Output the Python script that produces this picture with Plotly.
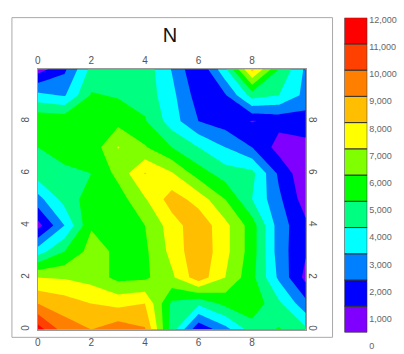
import plotly.graph_objects as go

# ---- data ----
x_vals = [0, 1, 2, 3, 4, 5, 6, 7, 8, 9, 10]
y_vals = [0, 1, 2, 3, 4, 5, 6, 7, 8, 9, 10]

row_y0 = [11500, 9500, 9000, 9600, 9100, 4500, 1200, 2600, 4500, 5100, 4200]
row_y1 = [9000, 8500, 8000, 7700, 8000, 4800, 4200, 5300, 5700, 4200, 2300]
row_y2 = [7000, 6900, 6600, 5700, 5800, 6800, 8600, 7000, 5300, 2800, 700]
row_y3 = [3500, 5000, 6400, 5800, 5800, 7300, 8800, 7300, 5500, 2500, 1100]
row_y4 = [600, 3000, 5900, 5700, 6000, 7500, 8700, 7300, 5500, 2500, 1200]
row_y5 = [2600, 4400, 5500, 5500, 6900, 8500, 7600, 6000, 4000, 2200, 500]
row_y6 = [4500, 4700, 5000, 6300, 8050, 7100, 5500, 4500, 4300, 1800, 200]
row_y7 = [5000, 5600, 5400, 7050, 6100, 5000, 4000, 3000, 2000, 600, 700]
row_y8 = [5900, 5800, 6000, 5700, 5100, 3500, 2000, 1500, 950, 1300, 1500]
row_y9 = [3300, 2900, 5100, 4900, 4600, 3300, 1500, 1900, 4450, 4000, 2700]
row_y10 = [500, 1800, 4300, 4600, 4600, 2950, 1000, 3800, 8300, 5000, 2800]

z_rows = [row_y0, row_y1, row_y2, row_y3, row_y4, row_y5,
          row_y6, row_y7, row_y8, row_y9, row_y10]

levels = [0, 1000, 2000, 3000, 4000, 5000, 6000, 7000, 8000, 9000, 10000, 11000, 12000]
band_colors = ["#7f00ff", "#0000ff", "#0080ff", "#00ffff", "#00ff80", "#00ff00",
               "#80ff00", "#ffff00", "#ffbf00", "#ff8000", "#ff4000", "#ff0000"]
level_labels = [f"{v:,}" for v in levels]
axis_ticks = [0, 2, 4, 6, 8]
title_text = "N"

# ---- colorscale so that each band gets its exact colour ----
n = len(levels)  # 13
colorscale = [[0.0, band_colors[0]]]
for k, c in enumerate(band_colors):
    colorscale.append([(k + 1) / n, c])
colorscale.append([1.0, band_colors[-1]])

W, H = 404, 354
def px_x(v): return v / W
def px_y(v): return 1 - v / H

fig = go.Figure()

fig.add_trace(go.Contour(
    x=x_vals, y=y_vals, z=z_rows,
    colorscale=colorscale,
    contours=dict(start=levels[0], end=levels[-1], size=levels[1] - levels[0],
                  coloring="fill", showlines=False),
    line=dict(width=0, smoothing=0),
    showscale=False,
    hoverinfo="skip",
    xaxis="x", yaxis="y",
))

# overlay axes for top / right tick labels
fig.add_trace(go.Scatter(x=[], y=[], xaxis="x3", yaxis="y3", showlegend=False))

# colour bar drawn as stacked segments
fig.add_trace(go.Bar(
    x=[0] * (n - 1),
    y=[levels[i + 1] - levels[i] for i in range(n - 1)],
    base=levels[:-1],
    width=1,
    marker=dict(color=band_colors, line=dict(color="#333333", width=1)),
    xaxis="x2", yaxis="y2",
    showlegend=False, hoverinfo="skip",
))
# separate (thin, non-overlapping) axis pair carrying the colour-bar labels
fig.add_trace(go.Scatter(x=[], y=[], xaxis="x4", yaxis="y4", showlegend=False))

font_family = "Arial, Liberation Sans, sans-serif"
tickfont = dict(family=font_family, size=10, color="#555555")

fig.update_layout(
    width=W, height=H,
    margin=dict(l=0, r=0, t=0, b=0),
    paper_bgcolor="white", plot_bgcolor="rgba(0,0,0,0)",
    showlegend=False,
    barmode="overlay",
    title=dict(text=title_text, x=px_x(170), y=px_y(35), xanchor="center", yanchor="middle",
               font=dict(family=font_family, size=20, color="#111111")),
    xaxis=dict(domain=[px_x(35), px_x(305)], range=[0, 10], tickvals=axis_ticks,
               side="bottom", anchor="y", showgrid=False, zeroline=False,
               showline=True, linecolor="#999999", linewidth=1, mirror=True,
               ticks="", tickfont=tickfont, ticklabelstandoff=3),
    yaxis=dict(domain=[px_y(334), px_y(66)], range=[0, 10], tickvals=axis_ticks,
               side="left", anchor="x", showgrid=False, zeroline=False,
               showline=True, linecolor="#999999", linewidth=1, mirror=True,
               ticks="", tickangle=-90, tickfont=tickfont, ticklabelstandoff=4),
    xaxis3=dict(overlaying="x", range=[0, 10], tickvals=axis_ticks, side="top",
                anchor="y", showgrid=False, zeroline=False, showline=False,
                ticks="", tickfont=tickfont, ticklabelstandoff=2),
    yaxis3=dict(overlaying="y", range=[0, 10], tickvals=axis_ticks, side="right",
                anchor="x", showgrid=False, zeroline=False, showline=False,
                ticks="", tickangle=90, tickfont=tickfont),
    xaxis2=dict(domain=[px_x(344), px_x(367)], range=[-0.5, 0.5], visible=False,
                anchor="y2"),
    yaxis2=dict(domain=[px_y(337), px_y(13)], range=[levels[0], levels[-1]],
                side="right", anchor="x2", showticklabels=False,
                showgrid=False, zeroline=False, showline=False, ticks=""),
    xaxis4=dict(domain=[px_x(367), px_x(368)], range=[0, 1], visible=False,
                anchor="y4"),
    yaxis4=dict(domain=[px_y(351), px_y(15)], range=[levels[0], levels[-1]],
                side="right", anchor="x4", tickvals=levels, ticktext=level_labels,
                showgrid=False, zeroline=False, showline=False, ticks="",
                ticklabeloverflow="allow",
                tickfont=dict(family=font_family, size=9, color="#666666")),
    shapes=[dict(type="rect", xref="paper", yref="paper",
                 x0=px_x(9), x1=px_x(332), y0=px_y(342), y1=px_y(13),
                 line=dict(color="#aaaaaa", width=1), fillcolor="rgba(0,0,0,0)", layer="below")],
)

fig.write_html("out.html",
               config={"displayModeBar": False},
               post_script="document.body.style.margin='0';document.body.style.overflow='hidden';")
